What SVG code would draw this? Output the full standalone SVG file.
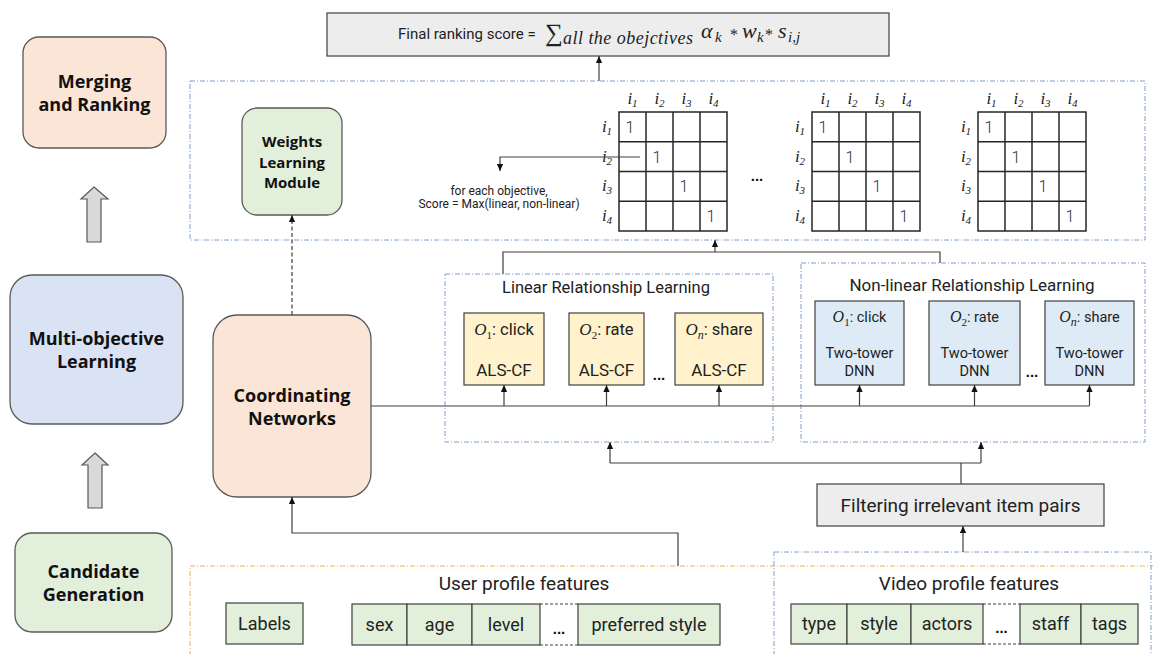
<svg xmlns="http://www.w3.org/2000/svg" width="1153" height="654" viewBox="0 0 1153 654">
<defs>
<marker id="ah" viewBox="0 0 10 10" refX="10" refY="5" markerWidth="7" markerHeight="7" orient="auto" markerUnits="userSpaceOnUse"><path d="M0,0.5 L10,5 L0,9.5 z" fill="#111"/></marker>
<style>
.rr{stroke:#5a5a5a;stroke-width:1.3}
.bx{stroke:#404040;stroke-width:1.2}
.dB{fill:none;stroke:#7f9fc9;stroke-width:1;stroke-dasharray:5 2 1 2}
.dO{fill:none;stroke:#e3b54a;stroke-width:1;stroke-dasharray:5 2 1 2}
.ln{fill:none;stroke:#404040;stroke-width:1.2}
.ar{marker-end:url(#ah)}
.lb{font-family:"Open Sans","DejaVu Sans",sans-serif;font-weight:bold;font-size:18px;fill:#111;text-anchor:middle}
.lbs{font-family:"Open Sans","DejaVu Sans",sans-serif;font-weight:bold;font-size:15px;fill:#111;text-anchor:middle}
.tx{font-family:Roboto,"Liberation Sans",sans-serif;fill:#222;text-anchor:middle}
.mi{font-family:"Liberation Serif",serif;font-style:italic}
.sb{font-family:"Liberation Serif",serif;font-size:11px}
.gr{fill:#fff;stroke:#262626;stroke-width:1.5}
.gl{fill:none;stroke:#262626;stroke-width:1.5}
.one{font-family:Roboto,"Liberation Sans",sans-serif;font-size:16px;fill:#333;text-anchor:middle;font-weight:300}
.hd{font-family:"Liberation Serif",serif;font-style:italic;font-size:17px;fill:#222;text-anchor:middle}
.dots{font-family:"Liberation Sans",sans-serif;font-weight:bold;font-size:15px;fill:#111;text-anchor:middle}
.gf{fill:#e2efda}
.f12{font-size:12px}.f14{font-size:14.5px}.f16{font-size:16.5px}.f17{font-size:17px}.f18{font-size:18px}.f19{font-size:19px}
.fm{font-family:"Liberation Serif",serif;fill:#222}
</style>
</defs>

<!-- left stage column -->
<g id="merging-ranking">
<rect x="23" y="37" width="143" height="111" rx="16" fill="#fbe5d6" class="rr"/>
<text class="lb" x="94.5" y="88">Merging</text>
<text class="lb" x="94.5" y="111">and Ranking</text>
</g>
<g id="stage-arrow-1">
<polygon points="94,187 108,199 101,199 101,242 87,242 87,199 81,199" fill="#d9d9d9" stroke="#595959" stroke-width="1.2"/>
</g>
<g id="multi-objective">
<rect x="10" y="275" width="173" height="149" rx="22" fill="#dae3f3" class="rr"/>
<text class="lb" x="96.5" y="345">Multi-objective</text>
<text class="lb" x="96.5" y="368">Learning</text>
</g>
<g id="stage-arrow-2">
<polygon points="95,453 108,465 102,465 102,508 88,508 88,465 82,465" fill="#d9d9d9" stroke="#595959" stroke-width="1.2"/>
</g>
<g id="candidate-generation">
<rect x="15" y="533" width="157" height="99" rx="17" fill="#e2efda" class="rr"/>
<text class="lb" x="93.5" y="578">Candidate</text>
<text class="lb" x="93.5" y="601">Generation</text>
</g>

<!-- containers -->
<g id="merging-container"><rect x="190" y="81" width="955" height="159" class="dB"/></g>
<g id="linear-group">
<rect x="445" y="274" width="328" height="168" class="dB"/>
<text class="tx f16" x="606" y="293">Linear Relationship Learning</text>
</g>
<g id="nonlinear-group">
<rect x="801" y="263" width="344" height="179" class="dB"/>
<text class="tx f17" x="972" y="291">Non-linear Relationship Learning</text>
</g>
<g id="user-profile">
<rect x="190" y="566" width="990" height="120" class="dO"/>
<text class="tx f19" x="524" y="590">User profile features</text>
</g>
<g id="video-profile">
<rect x="774" y="552" width="377" height="130" class="dB"/>
<text class="tx f19" x="969" y="590">Video profile features</text>
</g>

<!-- final score -->
<g id="final-score">
<rect x="327" y="13" width="562" height="43" fill="#ededed" class="bx"/>
<text x="398" y="39" font-family="Roboto,'Liberation Sans',sans-serif" font-size="15" fill="#222">Final ranking score =</text>
<text x="545" y="41" class="fm" font-size="25">∑</text>
<text x="563" y="44" class="mi" font-size="18" fill="#222" textLength="130" lengthAdjust="spacing">all the obejctives</text>
<text class="fm" y="38"><tspan class="mi" x="701" font-size="22">α</tspan><tspan class="mi" x="715" y="42" font-size="15">k</tspan><tspan x="730" y="40" font-size="16">*</tspan><tspan class="mi" x="742" y="38" font-size="22">w</tspan><tspan class="mi" x="757" y="42" font-size="15">k</tspan><tspan x="765" y="40" font-size="16">*</tspan><tspan class="mi" x="778" y="38" font-size="22">s</tspan><tspan class="mi" x="788" y="42" font-size="15">i,j</tspan></text>
</g>

<g id="weights-learning">
<rect x="242" y="108" width="100" height="107" rx="15" fill="#e2efda" class="rr"/>
<text class="lbs" x="292" y="147">Weights</text>
<text class="lbs" x="292" y="168">Learning</text>
<text class="lbs" x="292" y="188">Module</text>
</g>

<g id="coordinating-networks">
<rect x="213" y="315" width="158" height="182" rx="24" fill="#fbe5d6" class="rr"/>
<text class="lb" x="292" y="402">Coordinating</text>
<text class="lb" x="292" y="425">Networks</text>
</g>

<!-- matrices -->
<g id="matrix-1">
<rect x="619" y="112" width="108" height="119" class="gr"/>
<path class="gl" d="M646,112V231M673,112V231M700,112V231M619,141.75H727M619,171.5H727M619,201.25H727"/>
<text class="hd" x="632.5" y="104">i<tspan class="sb" dy="3">1</tspan></text>
<text class="hd" x="659.5" y="104">i<tspan class="sb" dy="3">2</tspan></text>
<text class="hd" x="686.5" y="104">i<tspan class="sb" dy="3">3</tspan></text>
<text class="hd" x="713.5" y="104">i<tspan class="sb" dy="3">4</tspan></text>
<text class="hd" x="607" y="132">i<tspan class="sb" dy="3">1</tspan></text>
<text class="hd" x="607" y="162">i<tspan class="sb" dy="3">2</tspan></text>
<text class="hd" x="607" y="191">i<tspan class="sb" dy="3">3</tspan></text>
<text class="hd" x="607" y="221">i<tspan class="sb" dy="3">4</tspan></text>
<text class="one" x="630" y="133">1</text>
<text class="one" x="657" y="163">1</text>
<text class="one" x="684" y="192">1</text>
<text class="one" x="711" y="222">1</text>
</g>
<g id="matrix-dots"><text class="dots" x="757" y="181">...</text></g>
<g id="matrix-2">
<rect x="812" y="112" width="108" height="119" class="gr"/>
<path class="gl" d="M839,112V231M866,112V231M893,112V231M812,141.75H920M812,171.5H920M812,201.25H920"/>
<text class="hd" x="825.5" y="104">i<tspan class="sb" dy="3">1</tspan></text>
<text class="hd" x="852.5" y="104">i<tspan class="sb" dy="3">2</tspan></text>
<text class="hd" x="879.5" y="104">i<tspan class="sb" dy="3">3</tspan></text>
<text class="hd" x="906.5" y="104">i<tspan class="sb" dy="3">4</tspan></text>
<text class="hd" x="800" y="132">i<tspan class="sb" dy="3">1</tspan></text>
<text class="hd" x="800" y="162">i<tspan class="sb" dy="3">2</tspan></text>
<text class="hd" x="800" y="191">i<tspan class="sb" dy="3">3</tspan></text>
<text class="hd" x="800" y="221">i<tspan class="sb" dy="3">4</tspan></text>
<text class="one" x="823" y="133">1</text>
<text class="one" x="850" y="163">1</text>
<text class="one" x="877" y="192">1</text>
<text class="one" x="904" y="222">1</text>
</g>
<g id="matrix-3">
<rect x="978" y="112" width="108" height="119" class="gr"/>
<path class="gl" d="M1005,112V231M1032,112V231M1059,112V231M978,141.75H1086M978,171.5H1086M978,201.25H1086"/>
<text class="hd" x="991.5" y="104">i<tspan class="sb" dy="3">1</tspan></text>
<text class="hd" x="1018.5" y="104">i<tspan class="sb" dy="3">2</tspan></text>
<text class="hd" x="1045.5" y="104">i<tspan class="sb" dy="3">3</tspan></text>
<text class="hd" x="1072.5" y="104">i<tspan class="sb" dy="3">4</tspan></text>
<text class="hd" x="966" y="132">i<tspan class="sb" dy="3">1</tspan></text>
<text class="hd" x="966" y="162">i<tspan class="sb" dy="3">2</tspan></text>
<text class="hd" x="966" y="191">i<tspan class="sb" dy="3">3</tspan></text>
<text class="hd" x="966" y="221">i<tspan class="sb" dy="3">4</tspan></text>
<text class="one" x="989" y="133">1</text>
<text class="one" x="1016" y="163">1</text>
<text class="one" x="1043" y="192">1</text>
<text class="one" x="1070" y="222">1</text>
</g>
<g id="score-note">
<text class="tx f12" x="499" y="195" fill="#333">for each objective,</text>
<text class="tx f12" x="499" y="208" fill="#333">Score = Max(linear, non-linear)</text>
</g>

<!-- linear objective boxes -->
<g id="lin-o1">
<rect x="464" y="313" width="80" height="72" fill="#fff2cc" class="bx"/>
<text class="tx f16" x="504" y="335"><tspan class="mi" font-size="17">O</tspan><tspan class="sb" dy="4">1</tspan><tspan dy="-4">: click</tspan></text>
<text class="tx f17" x="504" y="376">ALS-CF</text>
</g>
<g id="lin-o2">
<rect x="569" y="313" width="75" height="72" fill="#fff2cc" class="bx"/>
<text class="tx f16" x="606.5" y="335"><tspan class="mi" font-size="17">O</tspan><tspan class="sb" dy="4">2</tspan><tspan dy="-4">: rate</tspan></text>
<text class="tx f17" x="606.5" y="376">ALS-CF</text>
</g>
<g id="lin-dots"><text class="dots" x="659" y="380">...</text></g>
<g id="lin-on">
<rect x="675" y="313" width="88" height="72" fill="#fff2cc" class="bx"/>
<text class="tx f16" x="719" y="335"><tspan class="mi" font-size="17">O</tspan><tspan class="mi" font-size="12" dy="4">n</tspan><tspan dy="-4">: share</tspan></text>
<text class="tx f17" x="719" y="376">ALS-CF</text>
</g>

<!-- non-linear objective boxes -->
<g id="dnn-o1">
<rect x="815" y="301" width="89" height="84" fill="#deebf7" class="bx"/>
<text class="tx f14" x="859.5" y="322"><tspan class="mi" font-size="16">O</tspan><tspan class="sb" dy="4">1</tspan><tspan dy="-4">: click</tspan></text>
<text class="tx f14" x="859.5" y="358">Two-tower</text>
<text class="tx f14" x="859.5" y="376">DNN</text>
</g>
<g id="dnn-o2">
<rect x="929" y="301" width="91" height="84" fill="#deebf7" class="bx"/>
<text class="tx f14" x="974.5" y="322"><tspan class="mi" font-size="16">O</tspan><tspan class="sb" dy="4">2</tspan><tspan dy="-4">: rate</tspan></text>
<text class="tx f14" x="974.5" y="358">Two-tower</text>
<text class="tx f14" x="974.5" y="376">DNN</text>
</g>
<g id="dnn-dots"><text class="dots" x="1032" y="377">...</text></g>
<g id="dnn-on">
<rect x="1045" y="301" width="89" height="84" fill="#deebf7" class="bx"/>
<text class="tx f14" x="1089.5" y="322"><tspan class="mi" font-size="16">O</tspan><tspan class="mi" font-size="12" dy="4">n</tspan><tspan dy="-4">: share</tspan></text>
<text class="tx f14" x="1089.5" y="358">Two-tower</text>
<text class="tx f14" x="1089.5" y="376">DNN</text>
</g>

<g id="filtering">
<rect x="817" y="484" width="287" height="42" fill="#ededed" class="bx"/>
<text class="tx f19" x="960.5" y="512">Filtering irrelevant item pairs</text>
</g>

<!-- feature rows -->
<g id="labels">
<rect x="226" y="603" width="77" height="41" class="gf bx"/>
<text class="tx f18" x="264.5" y="630">Labels</text>
</g>
<g id="user-features">
<rect x="352" y="604" width="55" height="41" class="gf bx"/>
<rect x="407" y="604" width="65" height="41" class="gf bx"/>
<rect x="472" y="604" width="68" height="41" class="gf bx"/>
<path d="M540,604H578M540,645H578" fill="none" stroke="#404040" stroke-width="1.2" stroke-dasharray="3 2"/>
<rect x="578" y="604" width="142" height="41" class="gf bx"/>
<text class="tx f18" x="379.5" y="631">sex</text>
<text class="tx f18" x="439.5" y="631">age</text>
<text class="tx f18" x="506" y="631">level</text>
<text class="dots" x="559" y="634">...</text>
<text class="tx f18" x="649" y="631">preferred style</text>
</g>
<g id="video-features">
<rect x="791" y="604" width="56" height="40" class="gf bx"/>
<rect x="847" y="604" width="64" height="40" class="gf bx"/>
<rect x="911" y="604" width="72" height="40" class="gf bx"/>
<path d="M983,604H1020M983,644H1020" fill="none" stroke="#404040" stroke-width="1.2" stroke-dasharray="3 2"/>
<rect x="1020" y="604" width="61" height="40" class="gf bx"/>
<rect x="1081" y="604" width="57" height="40" class="gf bx"/>
<text class="tx f18" x="819" y="630">type</text>
<text class="tx f18" x="879" y="630">style</text>
<text class="tx f18" x="947" y="630">actors</text>
<text class="dots" x="1001.5" y="633">...</text>
<text class="tx f18" x="1050.5" y="630">staff</text>
<text class="tx f18" x="1109.5" y="630">tags</text>
</g>

<!-- connectors -->
<g id="connectors">
<path class="ln ar" d="M599,81V56"/>
<path class="ln ar" d="M292,315V215" stroke-dasharray="4 2.5"/>
<path class="ln ar" d="M640,157H500V171"/>
<path class="ln" d="M371,406H1089.5"/>
<path class="ln ar" d="M504,406V385"/>
<path class="ln ar" d="M606.5,406V385"/>
<path class="ln ar" d="M719,406V385"/>
<path class="ln ar" d="M859.5,406V385"/>
<path class="ln ar" d="M974.5,406V385"/>
<path class="ln ar" d="M1089.5,406V385"/>
<path class="ln" d="M503,274V252H940V263"/>
<path class="ln ar" d="M715,252V240"/>
<path class="ln" d="M610,463H981"/>
<path class="ln ar" d="M610,463V442"/>
<path class="ln ar" d="M981,463V442"/>
<path class="ln" d="M961,484V463"/>
<path class="ln ar" d="M963,552V526"/>
<path class="ln ar" d="M678,566V533H292V497"/>
</g>
</svg>
